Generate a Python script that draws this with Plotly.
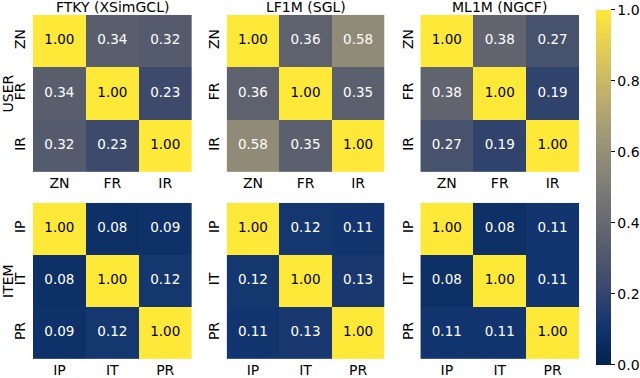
import plotly.graph_objects as go

user_labels = ["ZN", "FR", "IR"]
item_labels = ["IP", "IT", "PR"]
titles = ["FTKY (XSimGCL)", "LF1M (SGL)", "ML1M (NGCF)"]
row_labels = ["USER", "ITEM"]

user_ftky = [[1.00, 0.34, 0.32], [0.34, 1.00, 0.23], [0.32, 0.23, 1.00]]
user_lf1m = [[1.00, 0.36, 0.58], [0.36, 1.00, 0.35], [0.58, 0.35, 1.00]]
user_ml1m = [[1.00, 0.38, 0.27], [0.38, 1.00, 0.19], [0.27, 0.19, 1.00]]
item_ftky = [[1.00, 0.08, 0.09], [0.08, 1.00, 0.12], [0.09, 0.12, 1.00]]
item_lf1m = [[1.00, 0.12, 0.11], [0.12, 1.00, 0.13], [0.11, 0.13, 1.00]]
item_ml1m = [[1.00, 0.08, 0.11], [0.08, 1.00, 0.11], [0.11, 0.11, 1.00]]

W, H = 640, 378
FONT = "DejaVu Sans"
FS = 14
FS_CELL = 13.5

col_px = [(33, 192), (227, 385), (421, 580)]
row_px = [(15, 174), (205, 363)]

panels = [
    (0, 0, user_ftky, user_labels), (0, 1, user_lf1m, user_labels), (0, 2, user_ml1m, user_labels),
    (1, 0, item_ftky, item_labels), (1, 1, item_lf1m, item_labels), (1, 2, item_ml1m, item_labels),
]

fig = go.Figure()
layout = {}
for i, (r, c, z, labels) in enumerate(panels):
    n = i + 1
    xa = "x" if n == 1 else f"x{n}"
    ya = "y" if n == 1 else f"y{n}"
    fig.add_trace(go.Heatmap(
        z=z, x=labels, y=labels, colorscale="Cividis", zmin=0, zmax=1,
        xaxis=xa, yaxis=ya, showscale=(n == 1), hoverinfo="skip",
        colorbar=dict(
            x=597 / W, xanchor="left", xpad=0, ypad=0, thickness=15, thicknessmode="pixels",
            len=359 / H, lenmode="fraction", y=1 - 10 / H, yanchor="top",
            tickvals=[0, 0.2, 0.4, 0.6, 0.8, 1.0], ticktext=["0.0", "0.2", "0.4", "0.6", "0.8", "1.0"],
            ticks="outside", ticklen=4, tickcolor="black",
            tickfont=dict(family=FONT, size=FS, color="black"), outlinewidth=0,
        ),
    ))
    xs, ys, ts, cs = [], [], [], []
    for yi, yl in enumerate(labels):
        for xi, xl in enumerate(labels):
            v = z[yi][xi]
            xs.append(xl); ys.append(yl); ts.append(f"{v:.2f}")
            cs.append("black" if v > 0.7 else "white")
    fig.add_trace(go.Scatter(
        x=xs, y=ys, text=ts, mode="text", xaxis=xa, yaxis=ya,
        textfont=dict(family=FONT, size=FS_CELL, color=cs), hoverinfo="skip", showlegend=False,
    ))
    x0, x1 = col_px[c]
    y0, y1 = row_px[r]
    key_x = "xaxis" if n == 1 else f"xaxis{n}"
    key_y = "yaxis" if n == 1 else f"yaxis{n}"
    layout[key_x] = dict(
        domain=[x0 / W, x1 / W], anchor=ya, showgrid=False, zeroline=False,
        range=[-0.5, len(labels) - 0.5],
        tickfont=dict(family=FONT, size=FS, color="black"), ticks="", ticklabelstandoff=1,
        showline=False, fixedrange=True,
    )
    layout[key_y] = dict(
        domain=[1 - y1 / H, 1 - y0 / H], anchor=xa, showgrid=False, zeroline=False,
        range=[len(labels) - 0.5, -0.5], tickangle=-90,
        tickfont=dict(family=FONT, size=FS, color="black"), ticks="", ticklabelstandoff=4,
        showline=False, fixedrange=True,
    )

annotations = []
for c, t in enumerate(titles):
    x0, x1 = col_px[c]
    annotations.append(dict(
        text=t, x=(x0 + x1) / 2 / W, y=1 - 7 / H, xref="paper", yref="paper",
        xanchor="center", yanchor="middle", showarrow=False,
        font=dict(family=FONT, size=FS, color="black"),
    ))
for r, t in enumerate(row_labels):
    y0, y1 = row_px[r]
    annotations.append(dict(
        text=t, x=8 / W, y=1 - (y0 + y1) / 2 / H, xref="paper", yref="paper",
        xanchor="center", yanchor="middle", textangle=-90, showarrow=False,
        font=dict(family=FONT, size=FS, color="black"),
    ))

fig.update_layout(
    width=W, height=H, margin=dict(l=0, r=0, t=0, b=0),
    paper_bgcolor="white", plot_bgcolor="white", showlegend=False,
    annotations=annotations, **layout,
)

fig.write_html(
    "out.html",
    config={"displayModeBar": False, "staticPlot": True},
    post_script="document.body.style.margin='0';document.body.style.overflow='hidden';",
)
